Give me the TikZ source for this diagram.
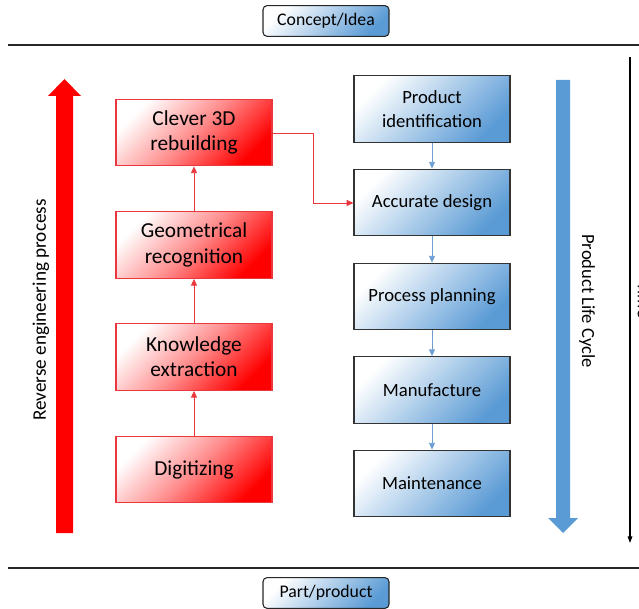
\documentclass[tikz,border=0pt]{standalone}
\usepackage{fontspec}
\setmainfont{Carlito}
\usetikzlibrary{arrows.meta}
\definecolor{offblue}{HTML}{5B9BD5}
\definecolor{lineblue}{HTML}{6E9FD3}
\definecolor{boxred}{HTML}{FF0000}
\definecolor{redline}{HTML}{E8383D}
\begin{document}
\begin{tikzpicture}[x=0.75pt,y=-0.75pt,
  redbox/.style={draw=redline, line width=0.9pt, top color=white, bottom color=boxred, middle color=boxred!45, shading angle=45,
    minimum width=117pt, minimum height=50pt, align=center, font=\fontsize{16}{19}\selectfont, inner sep=0pt},
  bluebox/.style={draw=black!80, line width=0.9pt, top color=white, bottom color=offblue, shading angle=45,
    minimum width=117pt, minimum height=50pt, align=center, font=\fontsize{14}{17.5}\selectfont, inner sep=0pt},
  endbox/.style={draw=black!85, line width=0.8pt, rounded corners=3pt, top color=white, bottom color=offblue, shading angle=45,
    minimum width=94.5pt, minimum height=23pt, font=\fontsize{13.3}{15}\selectfont, inner sep=0pt},
  redcon/.style={draw=redline, line width=0.6pt, -{Triangle[length=5pt,width=4.5pt]}},
  bluecon/.style={draw=lineblue, line width=0.6pt, -{Triangle[length=5pt,width=4.5pt]}}]
\useasboundingbox (0,0) rectangle (639,609);

% horizontal separators
\draw[line width=1.1pt, black!85] (8,45) -- (639,45);
\draw[line width=1.1pt, black!85] (8,568) -- (639,568);

% top and bottom boxes
\node[endbox] (concept) at (326,21) {Concept/Idea};
\node[endbox] (part) at (326,593) {Part/product};

% red big arrow
\fill[boxred] (56,533) -- (56,96) -- (48,96) -- (64.5,79) -- (81,96) -- (73,96) -- (73,533) -- cycle;
\node[rotate=90, font=\fontsize{14.4}{16}\selectfont] (rev) at (41,310) {Reverse engineering process};

% red boxes
\node[redbox] (clever) at (194,132.5) {Clever 3D\\rebuilding};
\node[redbox] (geom) at (194,245) {Geometrical\\recognition};
\node[redbox] (know) at (194,357) {Knowledge\\extraction};
\node[redbox] (digit) at (194,469.5) {Digitizing};

\draw[redcon] (digit) -- (know);
\draw[redcon] (know) -- (geom);
\draw[redcon] (geom) -- (clever);

% blue boxes
\node[bluebox] (ident) at (432,109) {Product\\identification};
\node[bluebox] (acc) at (432,202.5) {Accurate design};
\node[bluebox] (plan) at (432,296.5) {Process planning};
\node[bluebox] (manu) at (432,390) {Manufacture};
\node[bluebox] (maint) at (432,483.5) {Maintenance};

\draw[bluecon] (ident) -- (acc);
\draw[bluecon] (acc) -- (plan);
\draw[bluecon] (plan) -- (manu);
\draw[bluecon] (manu) -- (maint);

\draw[redcon] (clever.east |- 0,133) -| (313,203) -- (acc.west |- 0,203);

% blue big arrow
\fill[offblue] (556,80) -- (570,80) -- (570,518) -- (578,518) -- (563,533) -- (548,518) -- (556,518) -- cycle;
\node[rotate=-90, font=\fontsize{13.9}{16}\selectfont] (plc) at (587,301) {Product Life Cycle};

% time axis
\coordinate (tTop) at (630,57);
\coordinate (tBot) at (630,543);
\draw[line width=0.8pt, -{Triangle[length=5pt,width=3.5pt]}] (tTop) -- (tBot);
\node[rotate=-90, font=\fontsize{13.3}{15}\selectfont, anchor=south] (time) at (633,300) {Time};
\end{tikzpicture}
\end{document}
